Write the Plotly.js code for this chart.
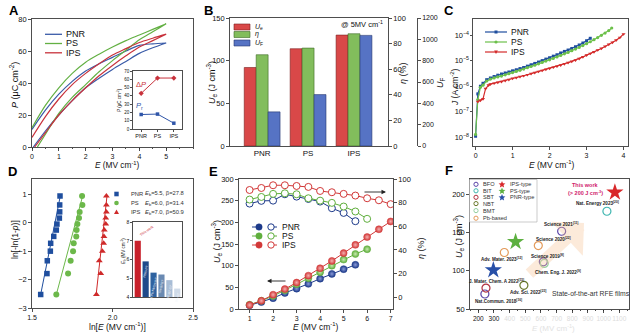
<!DOCTYPE html>
<html><head><meta charset="utf-8">
<script src="https://cdn.plot.ly/plotly-3.0.1.min.js"></script>
<style>html,body{margin:0;padding:0;background:#fff}#chart{width:640px;height:336px}</style>
</head><body><div id="chart"></div>
<script>
// ---------------- DATA ----------------
// Panel A: P-E loops (lower branch rising, upper branch returning)
const A_low_E_PNR = [0.05,0.5,1,1.5,2,2.5,3,3.5,4,4.5,5];
const A_low_P_PNR = [0,10,20,29,37,43,48.5,53.5,58.5,62,65];
const A_up_E = [5,4.5,4,3.5,3,2.5,2,1.5,1,0.5,0];
const A_up_P_PNR = [65,64.5,63.5,60,56,52,47.5,41,33,23,11];
const A_low_E_PS = [0.2,0.5,1,1.5,2,2.5,3,3.5,4,4.5,5];
const A_low_P_PS = [0,8,21,31,39,47,54,60.5,67,72,77];
const A_up_P_PS = [77,73.5,70,66.5,62.5,58,53,46,37,26,12];
const A_low_E_IPS = [0.1,0.5,1,1.5,2,2.5,3,3.5,4,4.5,5];
const A_low_P_IPS = [0,9,20,29,37,44.5,51,57,62.5,66.5,70.5];
const A_up_P_IPS = [70.5,68,65.3,61.5,57.5,52,46,39,30,19,6];
const inset_cats = ['PNR','PS','IPS'];
const inset_dP = [43,61.5,61.5];
const inset_Pr = [17.5,18,7];

// Panel B
const B_cats = ['PNR','PS','IPS'];
const B_Ue = [92,114,130];
const B_eta = [71.3,76.5,87.7];
const B_UF = [320,482,1037];

// Panel C: leakage current
const C_PNR_E = [0,0.06,0.13,0.2,0.3,0.4,0.5,0.6,0.7,0.8,0.9,1.0,1.1,1.2,1.3,1.4,1.5,1.6,1.7,1.8,1.9,2.0,2.1,2.2,2.3,2.4,2.5,2.6,2.7,2.8,2.9,3.0,3.1];
const C_PNR_J = [1.1e-8,5e-7,1.0e-6,1.3e-6,1.8e-6,2.1e-6,2.4e-6,2.7e-6,3.0e-6,3.3e-6,3.6e-6,4.0e-6,4.4e-6,4.9e-6,5.4e-6,6.1e-6,6.9e-6,7.8e-6,8.8e-6,1.0e-5,1.15e-5,1.3e-5,1.5e-5,1.7e-5,2.0e-5,2.3e-5,2.6e-5,3.0e-5,3.5e-5,4.1e-5,4.9e-5,6.0e-5,7.5e-5];
const C_PS_E = [0,0.06,0.13,0.2,0.3,0.4,0.5,0.6,0.7,0.8,0.9,1.0,1.1,1.2,1.3,1.4,1.5,1.6,1.7,1.8,1.9,2.0,2.1,2.2,2.3,2.4,2.5,2.6,2.7,2.8,2.9,3.0,3.1,3.2,3.3,3.4,3.5,3.6,3.68];
const C_PS_J = [1.3e-8,3e-7,9e-7,1.1e-6,1.6e-6,1.9e-6,2.1e-6,2.3e-6,2.5e-6,2.8e-6,3.1e-6,3.4e-6,3.8e-6,4.2e-6,4.7e-6,5.3e-6,5.9e-6,6.6e-6,7.5e-6,8.5e-6,9.6e-6,1.08e-5,1.22e-5,1.4e-5,1.6e-5,1.85e-5,2.1e-5,2.45e-5,2.85e-5,3.3e-5,3.9e-5,4.6e-5,5.5e-5,6.6e-5,8e-5,9.8e-5,1.2e-4,1.5e-4,1.9e-4];
const C_IPS_E = [0.06,0.13,0.2,0.27,0.35,0.4,0.5,0.6,0.7,0.8,0.9,1.0,1.1,1.2,1.3,1.4,1.5,1.6,1.7,1.8,1.9,2.0,2.1,2.2,2.3,2.4,2.5,2.6,2.7,2.8,2.9,3.0,3.1,3.2,3.3,3.4,3.5,3.6,3.7,3.8,3.9,4.0];
const C_IPS_J = [2.5e-7,2.8e-7,3.2e-7,8e-7,1.1e-6,1.2e-6,1.3e-6,1.4e-6,1.5e-6,1.65e-6,1.8e-6,2.0e-6,2.15e-6,2.35e-6,2.55e-6,2.8e-6,3.1e-6,3.4e-6,3.75e-6,4.1e-6,4.5e-6,5.0e-6,5.5e-6,6.0e-6,6.7e-6,7.5e-6,8.4e-6,9.4e-6,1.05e-5,1.2e-5,1.4e-5,1.65e-5,1.9e-5,2.2e-5,2.6e-5,3.0e-5,3.6e-5,4.3e-5,5.2e-5,6.3e-5,8e-5,1.1e-4];

// Panel D: Weibull
const D_lnP = [-2.525,-1.789,-1.338,-1.0,-0.723,-0.480,-0.257,-0.046,0.164,0.383,0.627,0.942];
const D_PNR_x = [1.554,1.593,1.595,1.614,1.616,1.635,1.651,1.655,1.670,1.672,1.672,1.674];
const D_PS_x = [1.651,1.724,1.740,1.755,1.759,1.775,1.777,1.782,1.792,1.796,1.813,1.811];
const D_IPS_x = [1.900,1.927,1.918,1.937,1.945,1.947,1.949,1.958,1.958,1.962,1.962,1.962];
const D_fit_y = [-2.55,0.95];
const D_PNR_fit = [1.553,1.676];
const D_PS_fit = [1.650,1.815];
const D_IPS_fit = [1.898,1.966];
const D_inset_labels = ['This work','PMN-PT','La,Pb:NbSm:BiT','Sm-BFBT','BF-BT-ST','BF-ST'];
const D_inset_Eb = [7.0,5.9,5.3,5.2,4.9,4.45];

// Panel E
const E_PNR_E = [1,1.5,2,2.5,3,3.5,4,4.5,5,5.5];
const E_PNR_Ue = [8.4,16,25,37,47,58,70,81,92,102];
const E_PNR_eta = [79.2,81.5,81.7,87.1,85.1,83.1,80.9,75.3,71.3,64.3];
const E_PS_E = [1,1.5,2,2.5,3,3.5,4,4.5,5,5.5,6];
const E_PS_Ue = [10,19,30,43,57,71,85,100,114,127,138];
const E_PS_eta = [82.6,84.8,87.4,87.9,87.1,83.7,81.7,79.8,76.7,72.5,66.3];
const E_IPS_E = [1,1.5,2,2.5,3,3.5,4,4.5,5,5.5,6,6.5,7];
const E_IPS_Ue = [9,19,33,46,61,77,94,111,129,148,166,184,202];
const E_IPS_eta = [90.7,92.4,94.7,94.7,94.1,93.3,89.9,88.8,87.4,86,83.7,82,78.7];

// Panel F: literature comparison
const F_BFO_x = [242,615,732], F_BFO_y = [69.6,111.7,151.7];
const F_BIT_x = [1021], F_BIT_y = [177.8];
const F_SBT_x = [249], F_SBT_y = [77.4];
const F_NBT_x = [491], F_NBT_y = [80.9];
const F_BMT_x = [621], F_BMT_y = [109.6];
const F_Pb_x = [366,583], F_Pb_y = [123.9,133];
const F_IPS_x = [1072], F_IPS_y = [202.6];
const F_PS_x = [438], F_PS_y = [137.8];
const F_PNR_x = [296], F_PNR_y = [100.9];
const F_xticks = [200,300,400,500,600,700,800,900,1000,1100];

// ---------------- HELPERS ----------------
const W=640,H=336, FF='Liberation Sans, Arial, sans-serif';
const X=p=>p/W, Y=p=>1-p/H;
const dx=(a,b)=>[a/W,b/W], dy=(t,b)=>[1-b/H,1-t/H];
function ax(o){return Object.assign({showline:true,linecolor:'#222',linewidth:0.8,mirror:true,ticks:'outside',ticklen:3,tickwidth:0.8,tickcolor:'#222',showgrid:false,zeroline:false,tickfont:{family:FF,size:7.5,color:'#111'}},o);}
function ann(text,x,y,o){o=o||{};return {text,x:X(x),y:Y(y),xref:'paper',yref:'paper',showarrow:false,xanchor:o.xa||'center',yanchor:o.ya||'middle',textangle:o.rot||0,font:{family:FF,size:o.s||8.5,color:o.c||'#111'}};}
const hl=(x0,x1,y,c,w,d)=>({type:'line',xref:'paper',yref:'paper',x0:X(x0),x1:X(x1),y0:Y(y),y1:Y(y),line:{color:c,width:w||1.3,dash:d||'solid'}});
const rc=(x0,y0,x1,y1,f,lc,lw)=>({type:'rect',xref:'paper',yref:'paper',x0:X(x0),x1:X(x1),y0:Y(y1),y1:Y(y0),fillcolor:f,line:{color:lc||f,width:lw||0}});
const ci=(cx,cy,r,f,lc,lw)=>({type:'circle',xref:'paper',yref:'paper',x0:X(cx-r),x1:X(cx+r),y0:Y(cy+r),y1:Y(cy-r),fillcolor:f,line:{color:lc||f,width:lw||0}});
const tri=(cx,cy,r,f,down)=>{const s=down?-1:1;return {type:'path',xref:'paper',yref:'paper',path:`M ${X(cx)},${Y(cy-s*r)} L ${X(cx-r)},${Y(cy+s*r*0.8)} L ${X(cx+r)},${Y(cy+s*r*0.8)} Z`,fillcolor:f,line:{color:f,width:0}};};
const star=(cx,cy,ro,f)=>{let p='';for(let k=0;k<10;k++){const r=k%2?ro*0.45:ro;const a=(-90+36*k)*Math.PI/180;p+=(k?'L':'M')+` ${X(cx+r*Math.cos(a))},${Y(cy+r*Math.sin(a))} `;}return {type:'path',xref:'paper',yref:'paper',path:p+'Z',fillcolor:f,line:{width:0}};};

const cB='#3a5ba8', cG='#63b043', cR='#c8323c';
const traces=[];
// Panel A
[[A_low_E_PNR,A_low_P_PNR,A_up_P_PNR,cB],[A_low_E_PS,A_low_P_PS,A_up_P_PS,cG],[A_low_E_IPS,A_low_P_IPS,A_up_P_IPS,cR]].forEach(([le,lp,up,c])=>{
  traces.push({x:le.concat(A_up_E),y:lp.concat(up),xaxis:'x',yaxis:'y',mode:'lines',line:{color:c,width:1.2,shape:'spline',smoothing:0.8}});
});
traces.push({x:inset_cats,y:inset_dP,xaxis:'x2',yaxis:'y2',mode:'lines+markers',line:{color:'#c8323c',width:1},marker:{symbol:'diamond',size:4,color:'#c8323c'}});
traces.push({x:inset_cats,y:inset_Pr,xaxis:'x2',yaxis:'y2',mode:'lines+markers',line:{color:'#2f55a8',width:1},marker:{symbol:'square',size:3.5,color:'#2f55a8'}});
// Panel B
traces.push({type:'bar',x:B_cats,y:B_Ue,xaxis:'x3',yaxis:'y3',width:0.26,offset:-0.39,marker:{color:'#d94848',line:{color:'#7a2020',width:0.6}}});
traces.push({type:'bar',x:B_cats,y:B_eta,xaxis:'x3',yaxis:'y4',width:0.26,offset:-0.13,marker:{color:'#82bd5c',line:{color:'#3d6a25',width:0.6}}});
traces.push({type:'bar',x:B_cats,y:B_UF,xaxis:'x3',yaxis:'y5',width:0.26,offset:0.13,marker:{color:'#5673c4',line:{color:'#27386e',width:0.6}}});
// Panel C
traces.push({x:C_PNR_E,y:C_PNR_J,xaxis:'x4',yaxis:'y6',mode:'lines+markers',line:{color:'#1f4e9e',width:1.2},marker:{symbol:'square',size:3,color:'#1f4e9e'}});
traces.push({x:C_PS_E,y:C_PS_J,xaxis:'x4',yaxis:'y6',mode:'lines+markers',line:{color:'#6cc04a',width:1.2},marker:{symbol:'circle',size:3.2,color:'#6cc04a'}});
traces.push({x:C_IPS_E,y:C_IPS_J,xaxis:'x4',yaxis:'y6',mode:'lines+markers',line:{color:'#d42a2a',width:1.2},marker:{symbol:'triangle-down',size:3.6,color:'#d42a2a'}});
// Panel D
traces.push({x:D_PNR_fit,y:D_fit_y,xaxis:'x5',yaxis:'y7',mode:'lines',line:{color:'#1f4e9e',width:1}});
traces.push({x:D_PS_fit,y:D_fit_y,xaxis:'x5',yaxis:'y7',mode:'lines',line:{color:'#6cb84a',width:1}});
traces.push({x:D_IPS_fit,y:D_fit_y,xaxis:'x5',yaxis:'y7',mode:'lines',line:{color:'#cf2a2a',width:1}});
traces.push({x:D_PNR_x,y:D_lnP,xaxis:'x5',yaxis:'y7',mode:'markers',marker:{symbol:'square',size:5.5,color:'#1f4e9e'}});
traces.push({x:D_PS_x,y:D_lnP,xaxis:'x5',yaxis:'y7',mode:'markers',marker:{symbol:'circle',size:6,color:'#6cb84a'}});
traces.push({x:D_IPS_x,y:D_lnP,xaxis:'x5',yaxis:'y7',mode:'markers',marker:{symbol:'triangle-up',size:6,color:'#cf2a2a'}});
traces.push({type:'bar',x:D_inset_labels,y:D_inset_Eb,xaxis:'x6',yaxis:'y8',width:0.78,marker:{color:['#c8202a','#1f4a8a','#2e62a0','#6a8ab2','#a8bdd6','#cfdae8']}});
// Panel E
const eSets=[[E_PNR_E,E_PNR_Ue,E_PNR_eta,'#1d3a8a','#8a9ad8'],[E_PS_E,E_PS_Ue,E_PS_eta,'#5fae3c','#c8eab0'],[E_IPS_E,E_IPS_Ue,E_IPS_eta,'#d23838','#f5b0b0']];
eSets.forEach(([e,u,n,c,g])=>{
  traces.push({x:e,y:u,xaxis:'x7',yaxis:'y9',mode:'lines+markers',line:{color:c,width:1},marker:{symbol:'circle',size:7,color:c,gradient:{type:'radial',color:g},line:{color:c,width:0.5}}});
  traces.push({x:e,y:n,xaxis:'x7',yaxis:'y10',mode:'lines+markers',line:{color:c,width:1},marker:{symbol:'circle',size:7,color:'#fff',line:{color:c,width:1}}});
});
// Panel F
const fOpen=(x,y,c)=>({x,y,xaxis:'x8',yaxis:'y11',mode:'markers',marker:{symbol:'circle-open',size:8,color:c,line:{width:1.2,color:c}}});
traces.push(fOpen(F_BFO_x,F_BFO_y,'#5b45a8'));
traces.push(fOpen(F_BIT_x,F_BIT_y,'#3fb6b0'));
traces.push(fOpen(F_SBT_x,F_SBT_y,'#b03040'));
traces.push(fOpen(F_NBT_x,F_NBT_y,'#6b7a2c'));
traces.push(fOpen(F_BMT_x,F_BMT_y,'#95d0a0'));
traces.push(fOpen(F_Pb_x,F_Pb_y,'#e39a5a'));
const fStar=(x,y,c)=>({x,y,xaxis:'x8',yaxis:'y11',mode:'markers',marker:{symbol:'star',size:13,color:c,line:{width:0}}});
traces.push(fStar(F_IPS_x,F_IPS_y,'#d8282a'));
traces.push(fStar(F_PS_x,F_PS_y,'#5db040'));
traces.push(fStar(F_PNR_x,F_PNR_y,'#2850a8'));

// ---------------- LAYOUT ----------------
const sup=s=>`<sup>${s}</sup>`;
const layout={width:W,height:H,margin:{l:0,r:0,t:0,b:0},paper_bgcolor:'#fff',plot_bgcolor:'rgba(0,0,0,0)',showlegend:false,barmode:'overlay',font:{family:FF,size:8,color:'#111'},
  xaxis:ax({domain:dx(32,193),anchor:'y',range:[0,6],tickvals:[0,1,2,3,4,5],minor:{ticks:'outside',ticklen:1.5,dtick:0.5},tickfont:{family:FF,size:7,color:'#111'}}),
  yaxis:ax({domain:dy(19,147),anchor:'x',range:[0,80],tickvals:[0,20,40,60,80]}),
  xaxis2:ax({domain:dx(133,182),anchor:'y2',range:[-0.5,2.5],ticklen:2,tickfont:{family:FF,size:5.5,color:'#111'}}),
  yaxis2:ax({domain:dy(71,129),anchor:'x2',range:[0,70],tickvals:[0,10,20,30,40,50,60,70],ticklen:2,tickfont:{family:FF,size:4.5,color:'#111'}}),
  xaxis3:ax({domain:dx(230,388),anchor:'y3',range:[-0.7,2.74],ticks:'',tickfont:{family:FF,size:8,color:'#111'}}),
  yaxis3:ax({domain:dy(18,146),anchor:'x3',range:[0,150],tickvals:[0,50,100,150],mirror:false}),
  yaxis4:ax({overlaying:'y3',anchor:'x3',side:'right',range:[0,100],tickvals:[0,20,40,60,80,100],mirror:false}),
  yaxis5:ax({overlaying:'y3',anchor:'free',position:417/W,side:'right',range:[0,1200],tickvals:[0,200,400,600,800,1000,1200],mirror:false,tickfont:{family:FF,size:7,color:'#111'}}),
  xaxis4:ax({domain:dx(473,628),anchor:'y6',range:[-0.07,4.12],tickvals:[0,1,2,3,4],tickfont:{family:FF,size:7,color:'#111'}}),
  yaxis6:ax({domain:dy(19,146),anchor:'x4',type:'log',range:[-8.34,-3.37],dtick:1,exponentformat:'power',ticklen:2,tickfont:{family:FF,size:6,color:'#111'}}),
  xaxis5:ax({domain:dx(32,193),anchor:'y7',range:[1.5,2.5],tickvals:[1.5,2.0,2.5],tickformat:'.1f',tickfont:{family:FF,size:7,color:'#111'}}),
  yaxis7:ax({domain:dy(179,308),anchor:'x5',range:[-3,1.54],tickvals:[-3,-2,-1,0,1]}),
  xaxis6:ax({domain:dx(133,182),anchor:'y8',range:[-0.6,5.6],showticklabels:false,ticks:''}),
  yaxis8:ax({domain:dy(222,297),anchor:'x6',range:[4,8],tickvals:[4,5,6,7,8],ticklen:2,tickfont:{family:FF,size:5,color:'#111'}}),
  xaxis7:ax({domain:dx(239,393),anchor:'y9',range:[0.55,7.1],tickvals:[1,2,3,4,5,6,7],tickfont:{family:FF,size:7,color:'#111'}}),
  yaxis9:ax({domain:dy(179,309),anchor:'x7',range:[0,300],tickvals:[0,50,100,150,200,250,300],mirror:false}),
  yaxis10:ax({overlaying:'y9',anchor:'x7',side:'right',range:[-10,100],tickvals:[0,20,40,60,80,100],mirror:false}),
  xaxis8:ax({domain:dx(470,629),anchor:'y11',range:[147,1162],tickvals:F_xticks,tickangle:0,ticktext:F_xticks.map((v,i)=>i<2?String(v):`<span style="color:#dcdcdc">${v}</span>`),minor:{ticks:'outside',ticklen:1.5,dtick:50},tickfont:{family:FF,size:6.5,color:'#111'}}),
  yaxis11:ax({domain:dy(179,309),anchor:'x8',range:[50,220],tickvals:[50,100,150,200]}),
  shapes:[],annotations:[]};

const S=layout.shapes, A=layout.annotations;
// panel letters
[['A',14,11],['B',208,11],['C',449,11],['D',12,171],['E',213,171],['F',449,170]].forEach(([t,x,y])=>A.push(ann(`<b>${t}</b>`,x,y,{s:13,c:'#000'})));
// A
S.push(hl(45,62,34.3,cB),hl(45,62,43.5,cG),hl(45,62,52.8,cR));
A.push(ann('PNR',64,34.3,{xa:'left',s:9}),ann('PS',64,43.5,{xa:'left',s:9}),ann('IPS',64,52.8,{xa:'left',s:9}));
A.push(ann(`<i>P</i> (μC cm${sup('-2')})`,14,85,{rot:-90,s:9}));
A.push(ann(`<i>E</i> (MV cm${sup('-1')})`,117,165,{s:8.3}));
A.push(ann(`Δ<i>P</i>`,141,84,{s:7.5,c:'#c8323c'}));
A.push(ann(`<i>P</i><sub>r</sub>`,139,106,{s:7.5,c:'#2f55a8'}));
A.push(ann(`<i>P</i> (μC cm${sup('-2')})`,119,100,{rot:-90,s:4.5}));
// B
S.push(rc(234,24,250,30,'#d94848','#7a2020',0.6),rc(234,31.5,250,37.5,'#82bd5c','#3d6a25',0.6),rc(234,40,250,46,'#5673c4','#27386e',0.6));
A.push(ann('<i>U</i><sub>e</sub>',253,27,{xa:'left',s:7}),ann('<i>η</i>',253,34.5,{xa:'left',s:7}),ann('<i>U</i><sub>F</sub>',253,43,{xa:'left',s:7}));
A.push(ann(`@ 5MV cm${sup('-1')}`,362,24,{s:7.5}));
A.push(ann(`<i>U</i><sub>e</sub> (J cm${sup('-3')})`,211,83,{rot:-90,s:9}));
A.push(ann('<i>η</i> (%)',403,73,{rot:-90,s:9}));
A.push(ann('<i>U</i><sub>F</sub>',440,83,{rot:-90,s:9}));
// C
[['#1f4e9e',32,'PNR'],['#6cc04a',42,'PS'],['#d42a2a',52,'IPS']].forEach(([c,y,t],i)=>{
  S.push(hl(485,507,y,c,1.2));
  if(i===0)S.push(rc(494.5,y-1.5,497.5,y+1.5,c));
  else if(i===1)S.push(ci(496,y,1.6,c));
  else S.push(tri(496,y,1.9,c,true));
  A.push(ann(t,509,y,{xa:'left',s:8.5}));
});
A.push(ann(`<i>J</i> (A cm${sup('-2')})`,455,87,{rot:-90,s:8.5}));
A.push(ann(`<i>E</i> (MV cm${sup('-1')})`,552,164.5,{s:8.5}));
// D
S.push(rc(114.3,191.7,118.7,196.3,'#1f4e9e'));
S.push(ci(116.5,203,2.3,'#6cb84a'));
S.push(tri(116.5,212,2.5,'#cf2a2a',false));
A.push(ann('PNR',129,194,{xa:'left',s:5.8,c:'#333'}),ann('PS',129,203,{xa:'left',s:5.8,c:'#333'}),ann('IPS',129,212,{xa:'left',s:5.8,c:'#333'}));
A.push(ann('<i>E</i><sub>b</sub>=5.5, β=27.8',143,194,{xa:'left',s:5.8,c:'#333'}));
A.push(ann('<i>E</i><sub>b</sub>=6.0, β=31.4',143,203,{xa:'left',s:5.8,c:'#333'}));
A.push(ann('<i>E</i><sub>b</sub>=7.0, β=50.9',143,212,{xa:'left',s:5.8,c:'#333'}));
A.push(ann('ln[-ln(1-<i>p</i>)]',15,240,{rot:-90,s:8.5}));
A.push(ann(`ln[<i>E</i> (MV cm${sup('-1')})]`,117,326,{s:8.5}));
A.push(ann(`<i>E</i><sub>b</sub> (MV cm${sup('-1')})`,123,251,{rot:-90,s:4.5}));
D_inset_labels.forEach((t,i)=>{
  if(i===0) A.push({text:t,x:i-0.2,y:D_inset_Eb[i]+0.05,xref:'x6',yref:'y8',showarrow:false,xanchor:'left',yanchor:'bottom',textangle:-35,font:{family:FF,size:3.6,color:'#c8202a'}});
  else A.push({text:t,x:i,y:D_inset_Eb[i]-0.1,xref:'x6',yref:'y8',showarrow:false,xanchor:'center',yanchor:'top',textangle:-75,font:{family:FF,size:3.2,color:i>3?'#f4f6fa':'#e8eef8'}});
});
// E
[['#1d3a8a',227,'PNR'],['#5fae3c',236,'PS'],['#d23838',245,'IPS']].forEach(([c,y,t])=>{
  S.push(hl(252,277,y,c,1,'dash'));
  S.push(ci(259,y,3.2,c,c,0.5));
  S.push(ci(271,y,3.2,'#fff',c,1));
  A.push(ann(t,280,y,{xa:'left',s:8.5}));
});
A.push(ann(`<i>U</i><sub>e</sub> (J cm${sup('-3')})`,216,242,{rot:-90,s:9}));
A.push(ann('<i>η</i> (%)',421,248,{rot:-90,s:9}));
A.push(ann(`<i>E</i> (MV cm${sup('-1')})`,316,326,{s:8.5}));
A.push({text:'',x:X(267),y:Y(281),ax:20,ay:0,xref:'paper',yref:'paper',showarrow:true,arrowhead:2,arrowsize:1,arrowwidth:0.9,arrowcolor:'#222'});
A.push({text:'',x:X(386),y:Y(192),ax:-23,ay:0,xref:'paper',yref:'paper',showarrow:true,arrowhead:2,arrowsize:1,arrowwidth:0.9,arrowcolor:'#222'});
// F
A.push({text:'',x:X(584),y:Y(223),ax:-56,ay:52,xref:'paper',yref:'paper',showarrow:true,arrowhead:1,arrowsize:0.7,arrowwidth:11,arrowcolor:'rgba(248,196,150,0.35)'});
S.push(rc(469.5,179.5,537,222,'rgba(255,255,255,0.9)','#aaa',0.6));
[['BFO','#5b45a8',184.3],['BIT','#3fb6b0',190.8],['SBT','#b03040',197.3],['NBT','#6b7a2c',203.6],['BMT','#95d0a0',210.6],['Pb-based','#e39a5a',218.2]].forEach(([t,c,y])=>{
  S.push(ci(476,y,2.1,'rgba(0,0,0,0)',c,1));
  A.push(ann(t,481,y,{xa:'left',s:5.6,c:'#333'}));
});
[['IPS-type','#d8282a',184.3],['PS-type','#5db040',190.8],['PNR-type','#2850a8',197.3]].forEach(([t,c,y])=>{
  S.push(star(502,y+0.3,3.6,c));
  A.push(ann(t,508,y,{xa:'left',s:5.6,c:'#333'}));
});
A.push(ann('<b>This work</b>',585,185,{s:5.5,c:'#d0206a'}));
A.push(ann(`<b>(> 200 J cm${sup('-3')})</b>`,585,193,{s:5.5,c:'#d0206a'}));
const fl=[['Nat. Energy 2023',20,597,203],['Science 2021',11,561,224],['Science 2020',22,553,239],['Science 2019',8,547,256],['Chem. Eng. J. 2022',9,558,272],['Adv. Mater. 2023',12,501,259],['J. Mater. Chem. A 2022',15,496,281],['Adv. Sci. 2022',23,528,292],['Nat.Commun. 2018',16,498,301]];
fl.forEach(([t,r,x,y])=>A.push(ann(`<b>${t}${sup('['+r+']')}</b>`,x,y,{s:4.6,c:'#222'})));
A.push(ann('State-of-the-art RFE films',591,293,{s:6.8,c:'#333'}));
A.push(ann(`<i>E</i> (MV cm${sup('-1')})`,553,328,{s:8,c:'#e2e2e2'}));
A.push(ann(`<i>U</i><sub>e</sub> (J cm${sup('-3')})`,458,237,{rot:-90,s:9}));

Plotly.newPlot('chart',traces,layout,{staticPlot:true,displayModeBar:false});
</script></body></html>
